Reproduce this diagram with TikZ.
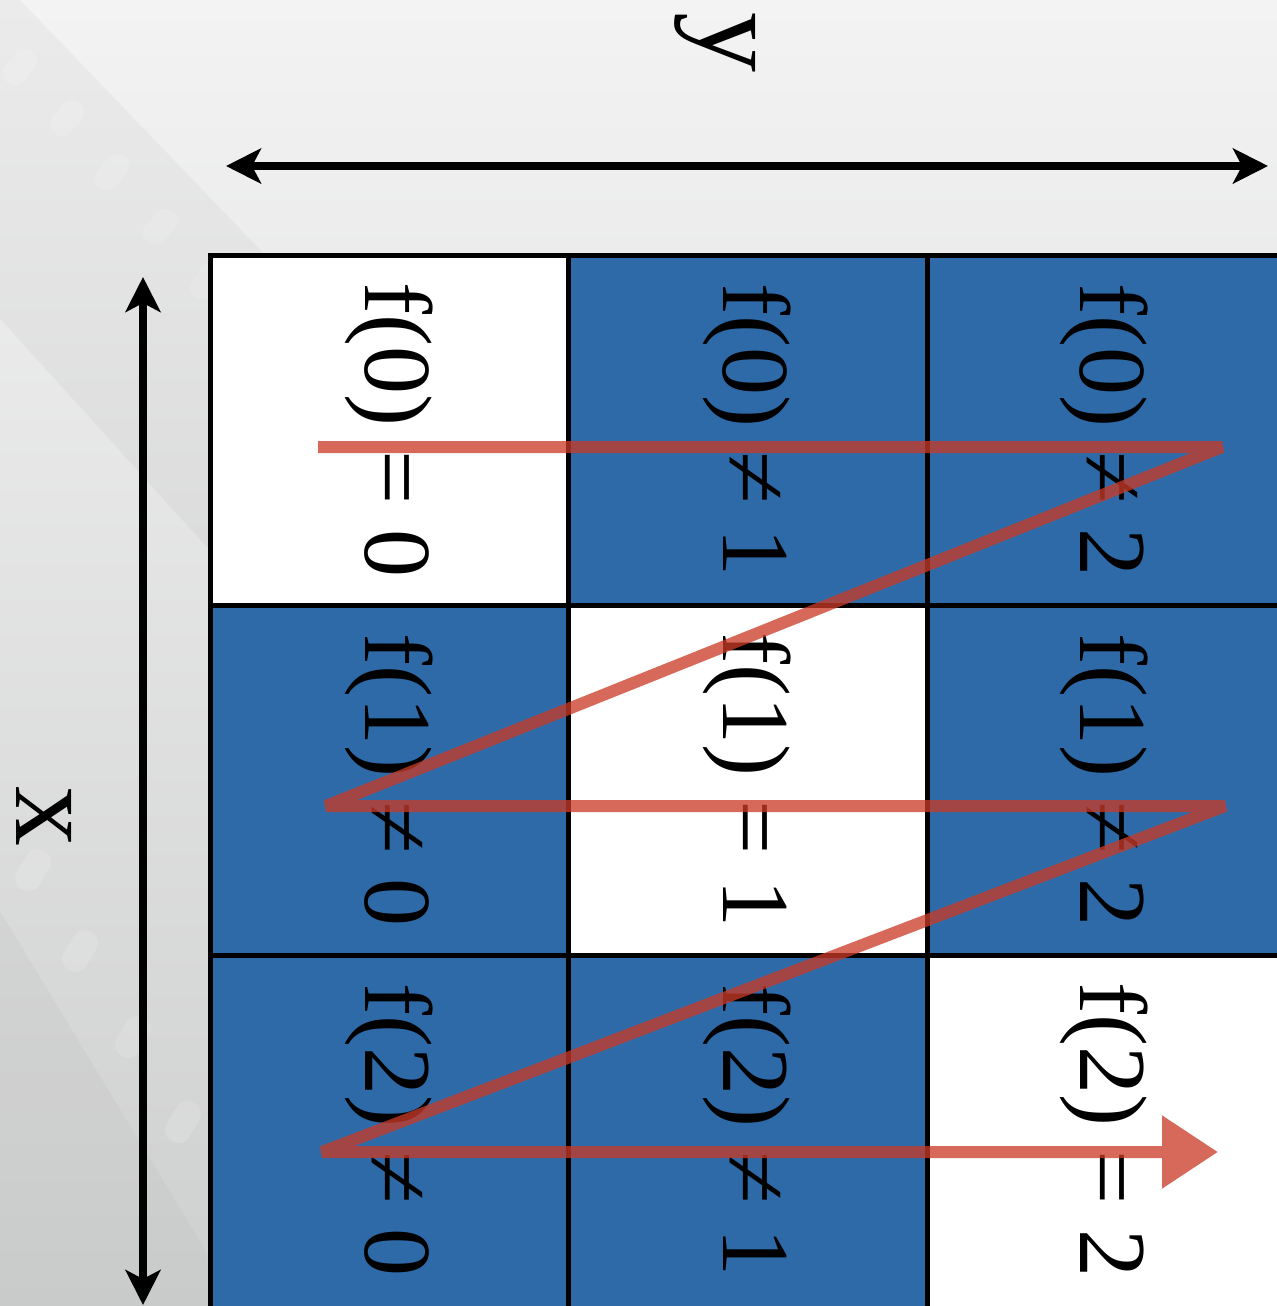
\documentclass[tikz,border=0pt]{standalone}
\usepackage{fontspec}
\setmainfont{Liberation Serif}
\usetikzlibrary{arrows.meta}

\definecolor{bgtop}{RGB}{243,243,243}
\definecolor{bgbot}{RGB}{206,207,207}
\definecolor{cellblue}{RGB}{46,106,168}
\definecolor{chalkred}{RGB}{202,58,38}

\begin{document}
\begin{tikzpicture}[x=0.5pt,y=-0.5pt,
  gridline/.style={line width=2.5pt,line cap=rect},
  celltext/.style={rotate=-90,inner sep=0pt,font=\fontsize{48}{56}\selectfont},
  axislabel/.style={rotate=-90,inner sep=0pt,font=\fontsize{60}{70}\selectfont},
  axis/.style={line width=4pt,
    {Stealth[length=17.5pt,width=17.5pt,inset=4.5pt]}-{Stealth[length=17.5pt,width=17.5pt,inset=4.5pt]}},
  chalk/.style={draw=chalkred,line width=6pt,line join=bevel,
    -{Triangle[length=28pt,width=35pt]}},
  strip/.style={fill=black,fill opacity=0.03},
  hole/.style={fill=white,fill opacity=0.14,rounded corners=6pt}
]
% page and background
\useasboundingbox (0,0) rectangle (1277,1306);
\clip (0,0) rectangle (1277,1306);
\shade[top color=bgtop,bottom color=bgbot] (0,0) rectangle (1277,1306);

% faint film strips in the background
\fill[strip] (20,0) -- (-40,-45) -- (-180,120) -- (400,760) -- (520,520) -- cycle;
\foreach \cx/\cy in {20/67,67/118,112/172,160/227,207/281}
  \fill[hole,rotate around={49:(\cx,\cy)}] (\cx-20,\cy-12) rectangle (\cx+20,\cy+12);
\fill[strip,fill opacity=0.025] (0,911) -- (207,1253) -- (210,1306) -- (0,1306) -- cycle;
\foreach \cx/\cy in {33/870,80/951,133/1037,183/1122}
  \fill[hole,rotate around={59:(\cx,\cy)}] (\cx-22,\cy-13) rectangle (\cx+22,\cy+13);

% cell fills
\fill[white] (210,255) rectangle (1287,1308);
\fill[cellblue] (568,255) rectangle (1287,605);
\fill[cellblue] (210,605) rectangle (568,955);
\fill[cellblue] (927,605) rectangle (1287,955);
\fill[cellblue] (210,955) rectangle (927,1308);

% grid lines
\draw[gridline] (210,255) rectangle (1287,1308);
\draw[gridline] (568,255) -- (568,1308);
\draw[gridline] (927,255) -- (927,1308);
\draw[gridline] (210,605) -- (1287,605);
\draw[gridline] (210,955) -- (1287,955);

% cell labels
\node[celltext] (t00) at (389,430)  {f(0) = 0};
\node[celltext] (t01) at (747,430)  {f(0) ≠ 1};
\node[celltext] (t02) at (1104,430) {f(0) ≠ 2};
\node[celltext] (t10) at (389,780)  {f(1) ≠ 0};
\node[celltext] (t11) at (747,780)  {f(1) = 1};
\node[celltext] (t12) at (1104,780) {f(1) ≠ 2};
\node[celltext] (t20) at (389,1130) {f(2) ≠ 0};
\node[celltext] (t21) at (747,1130) {f(2) ≠ 1};
\node[celltext] (t22) at (1104,1130) {f(2) = 2};

% axes
\coordinate (yl) at (226,166);
\coordinate (yr) at (1268,166);
\coordinate (xt) at (143,277);
\coordinate (xb) at (143,1305);
\draw[axis] (yl) -- (yr);
\draw[axis] (xt) -- (xb);
\node[axislabel] (ylab) at (715,42) {y};
\node[axislabel] (xlab) at (44,816) {x};

% zigzag reading order, drawn as one translucent stroke
\coordinate (z0) at (318,447);
\coordinate (z1) at (1222,447);
\coordinate (z2) at (326,806);
\coordinate (z3) at (1225,806);
\coordinate (z4) at (322,1152);
\coordinate (z5) at (1218,1152);
\begin{scope}[transparency group,opacity=0.76]
  \draw[chalk] (z0) -- (z1) -- (z2) -- (z3) -- (z4) -- (z5);
\end{scope}
\end{tikzpicture}
\end{document}
